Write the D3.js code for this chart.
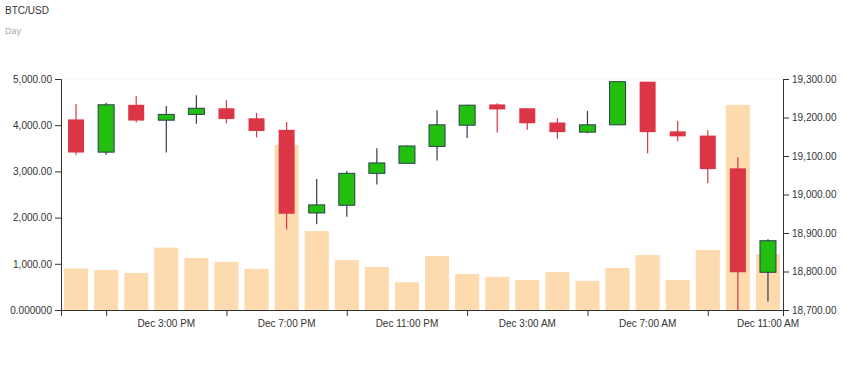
<!DOCTYPE html>
<html>
<head>
<meta charset="utf-8">
<script src="https://cdn.jsdelivr.net/npm/d3@7"></script>
<style>
  body { margin: 0; background: #fff; font-family: "Liberation Sans", Arial, sans-serif; }
  .axis text { font-size: 10px; fill: #333; font-family: "Liberation Sans", Arial, sans-serif; }
  .axis path, .axis line { stroke: #333; }
</style>
</head>
<body>
<div id="chart"></div>
<script>
///////////////////// DATA /////////////////////////
// hourly candles, Dec 12:00 PM -> Dec 11:00 AM
let hours = d3.range(24).map(i => new Date(2022, 11, 1, 12 + i));
let opens   = [19195,19110,19233,19193,19208,19224,19198,19168,18952,18972,19055,19081,19125,19180,19234,19224,19187,19162,19181,19293,19164,19153,19068,18798];
let closes  = [19109,19233,19192,19208,19224,19196,19165,18950,18973,19055,19082,19126,19181,19232,19221,19185,19162,19181,19293,19162,19151,19066,18798,18880];
let highs   = [19235,19238,19256,19230,19258,19245,19212,19188,19040,19061,19120,19127,19219,19233,19237,19224,19198,19217,19293,19293,19191,19167,19097,18884];
let lows    = [19103,19103,19187,19109,19184,19185,19148,18909,18923,18942,19026,19080,19088,19147,19161,19168,19145,19159,19181,19107,19138,19029,18700,18722];
let volumes = [900,866,800,1350,1125,1040,890,3570,1710,1080,930,600,1170,780,720,650,820,630,910,1190,650,1300,4440,1210];

let volTicks = [0,1000,2000,3000,4000,5000];
let volTickLabels = ["0.000000","1,000.00","2,000.00","3,000.00","4,000.00","5,000.00"];
let priceTicks = [18700,18800,18900,19000,19100,19200,19300];
let tickHours = [1,5,9,13,17,21];   // tick marks
let labelHours = [3,7,11,15,19,23]; // tick labels

let data = hours.map((h, i) => ({h, o: opens[i], c: closes[i], hi: highs[i], lo: lows[i], v: volumes[i]}));

/////////////////////// CHART /////////////////////////////////
let width = 862, height = 380;
let margin = {top: 79, right: 79, bottom: 70, left: 61};
let w = width - margin.left - margin.right,
    h = height - margin.top - margin.bottom;

let svg = d3.select("#chart")
    .append("svg")
    .attr("width", width)
    .attr("height", height);

svg.append("text").attr("x", 5).attr("y", 14)
    .style("font-size", "10px").style("fill", "#333").text("BTC/USD");
svg.append("text").attr("x", 5).attr("y", 34)
    .style("font-size", "9px").style("fill", "#aaa").text("Day");

let g = svg.append("g")
    .attr("transform", "translate(" + margin.left + "," + margin.top + ")");

let x_scale = d3.scaleBand()
    .domain(hours)
    .range([0, w])
    .paddingInner(0.2)
    .paddingOuter(0.1);

let y_vol = d3.scaleLinear().domain([0, 5000]).range([h, 0]);
let y_price = d3.scaleLinear().domain([18700, 19300]).range([h, 0]);

// faint top line
g.append("line")
    .attr("x1", 0).attr("x2", w)
    .attr("y1", 0).attr("y2", 0)
    .style("stroke", "#fdf1e8");

// volume bars
g.selectAll(".vol")
    .data(data)
    .enter()
    .append("rect")
    .attr("class", "vol")
    .attr("x", d => x_scale(d.h))
    .attr("y", d => y_vol(d.v))
    .attr("width", x_scale.bandwidth())
    .attr("height", d => h - y_vol(d.v))
    .style("fill", "#fddbae");

let cw = 16;
let cx = d => x_scale(d.h) + x_scale.bandwidth() / 2;
let up = d => d.c >= d.o;

// wicks
g.selectAll(".wick")
    .data(data)
    .enter()
    .append("line")
    .attr("x1", cx).attr("x2", cx)
    .attr("y1", d => y_price(d.hi))
    .attr("y2", d => y_price(d.lo))
    .style("stroke", d => up(d) ? "#2c3e50" : "#dc3545")
    .style("stroke-width", 1.2);

// bodies
g.selectAll(".body")
    .data(data)
    .enter()
    .append("rect")
    .attr("x", d => cx(d) - cw / 2)
    .attr("y", d => y_price(Math.max(d.o, d.c)))
    .attr("width", cw)
    .attr("height", d => Math.max(1, Math.abs(y_price(d.o) - y_price(d.c))))
    .style("fill", d => up(d) ? "#22bf0e" : "#dc3545")
    .style("stroke", d => up(d) ? "#2c3e50" : "none")
    .style("stroke-width", 1);

// axes
g.append("g")
    .attr("class", "axis")
    .call(d3.axisLeft(y_vol).tickValues(volTicks).tickFormat((d, i) => volTickLabels[i]));

g.append("g")
    .attr("class", "axis")
    .attr("transform", "translate(" + w + ",0)")
    .call(d3.axisRight(y_price).tickValues(priceTicks).tickFormat(d3.format(",.2f")));

let x_axis = g.append("g")
    .attr("class", "axis")
    .attr("transform", "translate(0," + h + ")");

let x_point = d => x_scale(d) + x_scale.bandwidth() / 2;
let fmt = d3.timeFormat("Dec %-I:%M %p");

x_axis.call(d3.axisBottom(d3.scaleLinear().domain([0, w]).range([0, w]))
    .tickValues(tickHours.map(i => x_point(hours[i])))
    .tickFormat(""));

x_axis.selectAll(".lbl")
    .data(labelHours)
    .enter()
    .append("text")
    .attr("x", i => x_point(hours[i]))
    .attr("y", 17)
    .attr("text-anchor", "middle")
    .style("font-size", "10px")
    .style("fill", "#333")
    .text(i => fmt(hours[i]));
</script>
</body>
</html>
